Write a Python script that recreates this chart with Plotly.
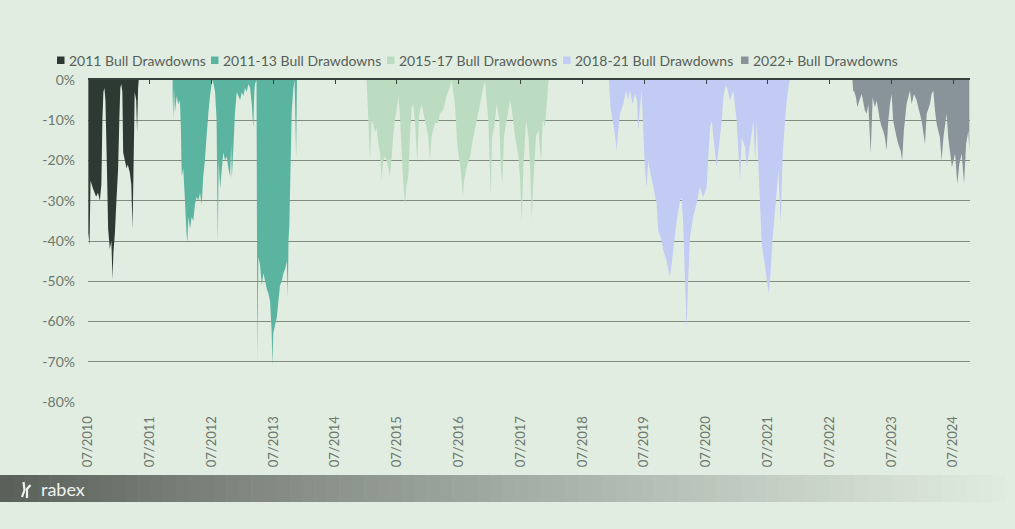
import plotly.graph_objects as go

# ---------------- data ----------------
tick_dates = ["2010-07-01", "2011-07-01", "2012-07-01", "2013-07-01", "2014-07-01",
              "2015-07-01", "2016-07-01", "2017-07-01", "2018-07-01", "2019-07-01",
              "2020-07-01", "2021-07-01", "2022-07-01", "2023-07-01", "2024-07-01"]
tick_labels = ["07/2010", "07/2011", "07/2012", "07/2013", "07/2014", "07/2015", "07/2016",
               "07/2017", "07/2018", "07/2019", "07/2020", "07/2021", "07/2022", "07/2023", "07/2024"]
y_ticks = [0, -10, -20, -30, -40, -50, -60, -70, -80]
y_labels = ["0%", "-10%", "-20%", "-30%", "-40%", "-50%", "-60%", "-70%", "-80%"]

series_names = ["2011 Bull Drawdowns", "2011-13 Bull Drawdowns", "2015-17 Bull Drawdowns",
                "2018-21 Bull Drawdowns", "2022+ Bull Drawdowns"]

s2011_dates = ["2010-07-03", "2010-07-10", "2010-07-16", "2010-07-31", "2010-08-18", "2010-08-29",
               "2010-09-09", "2010-09-18", "2010-09-24", "2010-09-30", "2010-10-06", "2010-10-12",
               "2010-10-21", "2010-10-28", "2010-11-07", "2010-11-16", "2010-11-23", "2010-11-28",
               "2010-12-07", "2010-12-16", "2010-12-26", "2011-01-02", "2011-01-08", "2011-01-14",
               "2011-01-20", "2011-01-25", "2011-02-04", "2011-02-14", "2011-02-21", "2011-03-05",
               "2011-03-14", "2011-03-21", "2011-03-26", "2011-04-03", "2011-04-12", "2011-04-17",
               "2011-04-23", "2011-04-27"]
s2011_values = [-38, -41, -25, -27, -29, -28, -30, -26, -10, -3, -2, -5, -22, -37, -42, -40, -49.5,
                -43, -38, -30, -22, -10, -2, -1, -3, -18, -20, -22, -21, -23, -26, -37, -25, -3, -5,
                -13, -2, 0]

s2013_dates = ["2011-11-13", "2011-11-17", "2011-11-21", "2011-11-27", "2011-12-07", "2011-12-16",
               "2011-12-26", "2012-01-01", "2012-01-06", "2012-01-15", "2012-01-25", "2012-02-03",
               "2012-02-08", "2012-02-14", "2012-02-24", "2012-03-05", "2012-03-14", "2012-03-24",
               "2012-04-03", "2012-04-13", "2012-04-23", "2012-05-03", "2012-05-12", "2012-05-22",
               "2012-06-01", "2012-06-12", "2012-06-21", "2012-07-01", "2012-07-06", "2012-07-12",
               "2012-07-21", "2012-07-30", "2012-08-06", "2012-08-11", "2012-08-20", "2012-08-30",
               "2012-09-08", "2012-09-18", "2012-09-28", "2012-10-08", "2012-10-18", "2012-10-24",
               "2012-10-28", "2012-11-06", "2012-11-16", "2012-11-26", "2012-12-06", "2012-12-16",
               "2012-12-26", "2013-01-04", "2013-01-14", "2013-01-24", "2013-02-03", "2013-02-13",
               "2013-02-23", "2013-03-04", "2013-03-10", "2013-03-14", "2013-03-23", "2013-03-28",
               "2013-04-03", "2013-04-13", "2013-04-23", "2013-05-03", "2013-05-13", "2013-05-23",
               "2013-06-01", "2013-06-11", "2013-06-20", "2013-06-25", "2013-06-30", "2013-07-10",
               "2013-07-21", "2013-07-30", "2013-08-09", "2013-08-19", "2013-08-29", "2013-09-08",
               "2013-09-18", "2013-09-24", "2013-09-28", "2013-10-03", "2013-10-11", "2013-10-17",
               "2013-10-27", "2013-11-03", "2013-11-12", "2013-11-17"]
s2013_values = [-3, -10, -2, -8, -4, -6, -5, -12, -24, -22, -30, -38, -40.5, -34, -37, -34, -35,
                -31, -29, -30, -28, -31, -24, -20, -14, -8, -4, -1, 0, -1, -3, -10, -41, -20, -27,
                -22, -18, -20, -19, -22, -24, -16, -24.5, -17, -8, -3, -4, -5, -3, -4, -2, -3, -1,
                -2, -6, -12, -3, -1, 0, -70, -44, -46, -51, -48, -50, -52, -53, -55, -62, -71, -63,
                -61, -59, -55, -51, -50, -48, -47, -45, -54, -40, -36, -20, -8, -2, 0, -19, -1]

s2017_dates = ["2015-01-02", "2015-01-07", "2015-01-13", "2015-01-23", "2015-02-02", "2015-02-11",
               "2015-02-21", "2015-03-03", "2015-03-13", "2015-03-23", "2015-04-02", "2015-04-11",
               "2015-04-21", "2015-05-01", "2015-05-11", "2015-05-21", "2015-05-31", "2015-06-09",
               "2015-06-19", "2015-07-03", "2015-07-09", "2015-07-19", "2015-07-29", "2015-08-07",
               "2015-08-17", "2015-08-27", "2015-09-06", "2015-09-16", "2015-09-26", "2015-10-05",
               "2015-10-15", "2015-10-29", "2015-11-08", "2015-11-24", "2015-12-13", "2016-01-02",
               "2016-01-12", "2016-01-22", "2016-02-11", "2016-03-01", "2016-03-11", "2016-03-31",
               "2016-04-20", "2016-05-09", "2016-05-19", "2016-05-29", "2016-06-08", "2016-06-18",
               "2016-06-27", "2016-07-12", "2016-07-24", "2016-08-01", "2016-08-17", "2016-09-05",
               "2016-09-25", "2016-10-15", "2016-11-03", "2016-11-23", "2016-12-03", "2016-12-22",
               "2017-01-06", "2017-01-13", "2017-01-25", "2017-02-10", "2017-02-25", "2017-03-06",
               "2017-03-15", "2017-03-25", "2017-04-10", "2017-04-30", "2017-05-10", "2017-05-29",
               "2017-06-18", "2017-06-28", "2017-07-08", "2017-07-17", "2017-08-02", "2017-08-16",
               "2017-08-26", "2017-09-05", "2017-09-14", "2017-09-30", "2017-10-14", "2017-10-30",
               "2017-11-09", "2017-11-22", "2017-12-02", "2017-12-12", "2017-12-16"]
s2017_values = [0, -4, -10, -20, -10, -11, -13, -12, -16, -18, -25, -20, -19, -20, -22, -24, -19,
                -14, -10, -6.5, -4, -9, -18, -25, -31, -26, -24, -14, -7, -6, -10, -20.5, -9, -6,
                -10, -14, -20, -14, -10.7, -10.7, -8.3, -7.4, -4, -1.7, 0, -3, -6, -14, -18, -22,
                -29, -25, -21.5, -19, -14, -10, -6, -1.7, -0.5, -10, -29, -14, -12, -6, -10, -22,
                -25.6, -14, -10, -5, -7.4, -14, -19, -25, -35.5, -22, -10, -14, -22, -34.7, -25.6,
                -14, -12.4, -20.7, -10, -11.6, -6, -0.4, 0]

s2021_dates = ["2018-12-05", "2018-12-11", "2018-12-15", "2018-12-27", "2019-01-10", "2019-01-20",
               "2019-01-29", "2019-02-08", "2019-02-28", "2019-03-16", "2019-03-29", "2019-04-08",
               "2019-04-24", "2019-05-08", "2019-05-20", "2019-05-27", "2019-06-06", "2019-06-16",
               "2019-06-26", "2019-07-06", "2019-07-16", "2019-07-25", "2019-08-04", "2019-08-24",
               "2019-09-13", "2019-09-22", "2019-10-12", "2019-10-22", "2019-11-11", "2019-11-20",
               "2019-11-30", "2019-12-11", "2019-12-20", "2020-01-09", "2020-01-29", "2020-02-08",
               "2020-02-17", "2020-02-27", "2020-03-08", "2020-03-18", "2020-03-28", "2020-04-16",
               "2020-05-06", "2020-05-26", "2020-06-14", "2020-07-05", "2020-07-15", "2020-07-25",
               "2020-08-04", "2020-08-13", "2020-09-02", "2020-09-12", "2020-10-02", "2020-10-11",
               "2020-10-21", "2020-10-31", "2020-11-20", "2020-12-09", "2020-12-29", "2021-01-18",
               "2021-01-28", "2021-02-16", "2021-02-27", "2021-03-18", "2021-04-07", "2021-04-17",
               "2021-04-27", "2021-05-06", "2021-05-16", "2021-05-26", "2021-06-15", "2021-06-25",
               "2021-07-08", "2021-07-18", "2021-07-30", "2021-08-13", "2021-08-23", "2021-09-01",
               "2021-09-15", "2021-09-27", "2021-10-11", "2021-10-21", "2021-11-03", "2021-11-09"]
s2021_values = [0, -5, -7, -10, -14, -17.5, -12.6, -8.4, -6, -2.6, -5, -2.6, -6, -3.5, -5, -12.6,
                -7, -2.6, -12.6, -22.5, -26.6, -20, -22.5, -26.6, -30.7, -37.4, -39.8, -42.3,
                -44.8, -47, -48.9, -45.6, -42.3, -35, -30, -29, -36, -48.9, -62, -48.9, -39, -34,
                -30.7, -26.6, -29.1, -26.6, -18.3, -11.7, -10.1, -14.2, -21.7, -17.5, -10.1, -4.3,
                -2, -1.5, -5.1, -2.6, -10.1, -25, -14.2, -16.7, -21.7, -15.9, -10.1, -20, -10.1,
                -20.8, -30.7, -40.7, -46.4, -49.8, -53.1, -47.3, -39, -32.4, -27.4, -22.5, -35.7,
                -18.3, -10.1, -5.1, -1, 0]

s2022_dates = ["2022-11-13", "2022-11-18", "2022-11-22", "2022-12-04", "2022-12-12", "2022-12-24",
               "2023-01-07", "2023-01-26", "2023-02-05", "2023-02-15", "2023-03-01", "2023-03-13",
               "2023-03-26", "2023-04-05", "2023-04-15", "2023-04-25", "2023-05-05", "2023-05-14",
               "2023-05-24", "2023-06-03", "2023-06-13", "2023-06-23", "2023-07-03", "2023-07-12",
               "2023-08-01", "2023-08-11", "2023-08-25", "2023-09-03", "2023-09-13", "2023-09-29",
               "2023-10-09", "2023-10-19", "2023-10-29", "2023-11-12", "2023-11-28", "2023-12-07",
               "2023-12-27", "2024-01-16", "2024-01-26", "2024-02-14", "2024-02-24", "2024-03-05",
               "2024-03-15", "2024-03-25", "2024-04-13", "2024-04-23", "2024-05-04", "2024-05-23",
               "2024-06-01", "2024-06-11", "2024-06-23", "2024-07-12", "2024-07-25", "2024-08-06",
               "2024-08-20", "2024-09-03", "2024-09-15", "2024-09-28", "2024-10-04"]
s2022_values = [0, -3, -2.6, -4.3, -6.8, -5.1, -3.5, -7.6, -8.4, -6, -18.3, -4.3, -6.8, -5.1, -7.6,
                -10.1, -11.7, -12.6, -14.2, -17.5, -10.1, -6, -3.5, -10.1, -14.2, -15.9, -17.5,
                -20, -12.6, -6, -4.3, -2.6, -6, -3.5, -5.1, -6.8, -10.1, -15.9, -8.4, -6, -3.5,
                -2.6, -7.6, -10.9, -14.2, -20, -14.2, -8.4, -14.2, -17.5, -21.7, -18.3, -25.8,
                -20.8, -18.3, -25.8, -15.9, -12.6, -17.5]

x_range = ["2010-07-01", "2024-10-08"]

# ---------------- style ----------------
BG = "#e2ede1"
GRID = "#7f8c7e"
AXIS_DARK = "#34423b"
TEXT = "#6b786d"
colors = ["#2d3a34", "#5bb4a0", "#bcdcc1", "#c1cbf3", "#89939a"]
FONT = "Lato, 'Open Sans', sans-serif"
legend_text_x = [68, 222, 398, 574, 752]  # pixel positions of legend labels

series = [(s2011_dates, s2011_values), (s2013_dates, s2013_values), (s2017_dates, s2017_values),
          (s2021_dates, s2021_values), (s2022_dates, s2022_values)]

fig = go.Figure()
for (xs, ys), name, col in zip(series, series_names, colors):
    fig.add_trace(go.Scatter(x=xs, y=ys, name=name, mode="none", fill="tozeroy",
                             fillcolor=col, showlegend=False, hoverinfo="x+y"))
# carrier for the top axis (no data)
fig.add_trace(go.Scatter(x=[], y=[], xaxis="x2", yaxis="y", showlegend=False, hoverinfo="skip"))

# plot area in pixels
L, R, T, B = 88, 970, 80, 402
W, H = 1015, 529


def px_x(p):
    return (p - L) / (R - L)


def px_y(p):
    return (B - p) / (B - T)


shapes = []
annotations = []
# custom legend (square swatch + label)
for name, col, tx in zip(series_names, colors, legend_text_x):
    shapes.append(dict(type="rect", xref="paper", yref="paper",
                       x0=px_x(tx - 11), x1=px_x(tx - 3.5), y0=px_y(64), y1=px_y(56.5),
                       fillcolor=col, line=dict(width=0)))
    annotations.append(dict(text=name, xref="paper", yref="paper", x=px_x(tx - 1), y=px_y(60.5),
                            xanchor="left", yanchor="middle", showarrow=False,
                            font=dict(family=FONT, size=14, color="#56605a")))

# footer gradient band
n = 80
c0 = (90, 97, 90)
c1 = (226, 237, 225)
for i in range(n):
    a = i / n
    b = (i + 1) / n
    t = a ** 0.9
    col = "rgb(%d,%d,%d)" % tuple(int(c0[k] + (c1[k] - c0[k]) * t) for k in range(3))
    shapes.append(dict(type="rect", xref="paper", yref="paper",
                       x0=px_x(a * 1005), x1=px_x(b * 1005 + 0.6),
                       y0=px_y(502), y1=px_y(475), fillcolor=col, line=dict(width=0),
                       layer="above"))
# logo glyph
shapes.append(dict(type="path", xref="paper", yref="paper",
                   path="M %f,%f L %f,%f L %f,%f" % (px_x(23.5), px_y(482), px_x(24.5), px_y(490),
                                                     px_x(22), px_y(497)),
                   line=dict(color="#eef2ee", width=2.2)))
shapes.append(dict(type="path", xref="paper", yref="paper",
                   path="M %f,%f L %f,%f L %f,%f" % (px_x(27), px_y(498), px_x(27), px_y(489),
                                                     px_x(30.5), px_y(485)),
                   line=dict(color="#eef2ee", width=2.2)))

annotations.append(dict(text="rabex", xref="paper", yref="paper", x=px_x(39), y=px_y(489),
                        xanchor="left", yanchor="middle", showarrow=False,
                        font=dict(family=FONT, size=18, color="#eef2ee")))

fig.update_layout(
    width=W, height=H,
    margin=dict(l=L, r=W - R, t=T, b=H - B),
    paper_bgcolor=BG, plot_bgcolor=BG,
    font=dict(family=FONT, color=TEXT),
    shapes=shapes, annotations=annotations,
    showlegend=False,
    xaxis=dict(type="date", range=x_range, tickvals=tick_dates, ticktext=tick_labels,
               tickangle=-90, showgrid=False, showline=False, zeroline=False,
               ticks="outside", ticklen=8, tickcolor=BG,
               tickfont=dict(family=FONT, size=13, color=TEXT)),
    xaxis2=dict(type="date", range=x_range, overlaying="x", side="top", showline=True,
                linecolor=AXIS_DARK, linewidth=1.6, ticks="inside", ticklen=4,
                tickcolor=AXIS_DARK, tickwidth=1.2, tickvals=tick_dates, showticklabels=False,
                showgrid=False, zeroline=False),
    yaxis=dict(range=[-80, 0], tickvals=y_ticks, ticktext=y_labels, showgrid=True,
               gridcolor=GRID, gridwidth=1.2, zeroline=False, showline=False, ticks="",
               ticklabelstandoff=12, tickfont=dict(family=FONT, size=14, color=TEXT)),
)

fig.write_html("out.html", config={"displayModeBar": False},
               post_script="document.body.style.margin='0';")
